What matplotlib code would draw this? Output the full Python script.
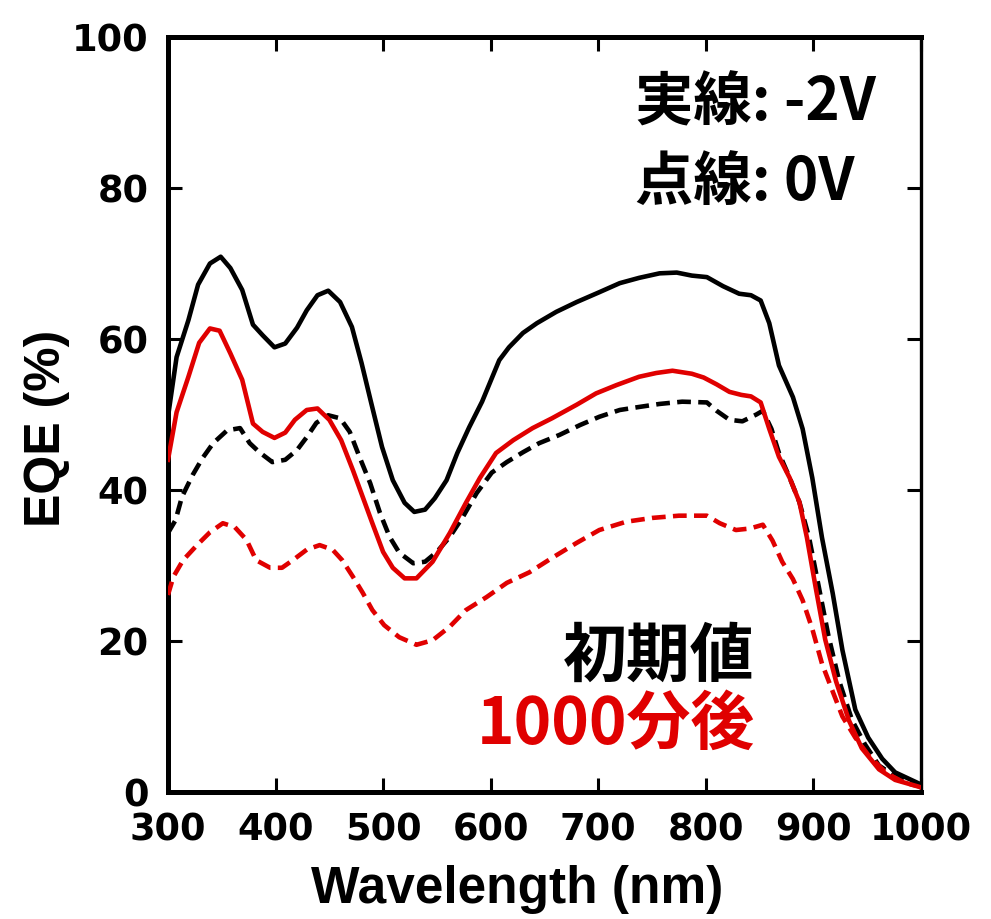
import matplotlib
matplotlib.use('Agg')
import matplotlib.pyplot as plt

# -2V, initial (black solid)
wl_k_solid = [300, 308, 319, 328, 339, 349, 358, 369, 379, 388, 399, 409, 420, 429, 439, 449,
              460, 471, 480, 489, 499, 509, 520, 529, 539, 548, 559, 569, 580, 592, 608, 617,
              630, 643, 661, 680, 701, 720, 738, 757, 773, 787, 801, 816, 831, 842, 851, 859,
              868, 881, 890, 899, 908, 918, 927, 939, 951, 964, 976, 991, 1000]
eqe_k_solid = [49.7, 57.6, 62.5, 67.2, 70.0, 70.9, 69.4, 66.5, 61.9, 60.5, 58.9, 59.4, 61.5, 63.8, 65.8, 66.4,
               64.9, 61.6, 56.8, 51.5, 45.7, 41.3, 38.3, 37.1, 37.4, 38.9, 41.3, 44.9, 48.3, 51.7, 57.2, 58.9,
               60.8, 62.1, 63.6, 64.9, 66.2, 67.4, 68.1, 68.7, 68.8, 68.4, 68.2, 67.0, 66.0, 65.8, 65.1, 62.1,
               56.5, 52.3, 48.1, 41.6, 33.7, 26.3, 18.8, 10.9, 7.2, 4.4, 2.6, 1.6, 1.0]

# -2V, after 1000 min (red solid)
wl_r_solid = [300, 308, 319, 329, 339, 348, 358, 369, 379, 388, 399, 409, 418, 429, 439, 450,
              461, 472, 481, 490, 500, 509, 520, 531, 546, 562, 577, 590, 605, 621, 639, 657,
              680, 698, 717, 738, 754, 769, 787, 798, 810, 822, 833, 842, 851, 859, 868, 878,
              887, 894, 902, 911, 921, 933, 945, 961, 976, 998, 1000]
eqe_r_solid = [44.0, 50.3, 55.0, 59.5, 61.4, 61.1, 58.1, 54.6, 48.8, 47.7, 46.9, 47.6, 49.3, 50.6, 50.8, 49.3,
               46.6, 42.6, 39.1, 35.6, 31.8, 29.7, 28.3, 28.3, 30.5, 34.3, 38.3, 41.6, 44.9, 46.6, 48.2, 49.5,
               51.3, 52.8, 53.9, 55.0, 55.5, 55.8, 55.4, 54.9, 54.0, 53.0, 52.6, 52.4, 51.6, 48.1, 44.4, 41.6,
               38.4, 33.7, 27.2, 20.2, 14.7, 9.5, 5.8, 3.0, 1.6, 0.7, 0.6]

# 0V, initial (black dashed)
wl_k_dash = [300, 307, 313, 323, 332, 342, 355, 367, 376, 385, 397, 409, 420, 429, 438, 449,
             460, 469, 478, 488, 497, 506, 515, 528, 539, 550, 562, 574, 587, 601, 615, 630,
             645, 664, 683, 701, 720, 738, 757, 778, 801, 810, 822, 834, 847, 853, 861, 868,
             878, 887, 896, 905, 914, 924, 936, 948, 961, 976, 998, 1000]
eqe_k_dash = [34.3, 36.0, 39.1, 42.0, 44.2, 46.2, 47.9, 48.2, 46.2, 45.0, 43.7, 44.0, 45.3, 47.0, 48.9, 49.9,
              49.5, 47.7, 44.4, 40.9, 37.0, 33.8, 31.7, 30.3, 30.5, 31.8, 33.8, 36.4, 39.6, 42.3, 43.7, 45.0,
              46.2, 47.3, 48.6, 49.7, 50.6, 51.0, 51.4, 51.7, 51.6, 50.5, 49.3, 49.1, 50.0, 50.5, 48.1, 44.9,
              41.6, 38.4, 33.7, 27.2, 20.7, 14.7, 9.5, 6.3, 3.5, 2.1, 0.9, 0.8]

# 0V, after 1000 min (red dashed)
wl_r_dash = [300, 305, 314, 327, 339, 351, 362, 373, 382, 395, 406, 416, 429, 441, 453, 462,
             472, 481, 490, 501, 515, 531, 546, 562, 577, 596, 615, 636, 657, 680, 701, 726,
             750, 775, 801, 813, 828, 841, 853, 862, 871, 881, 890, 899, 908, 918, 927, 939,
             951, 967, 985, 1000]
eqe_r_dash = [26.1, 28.5, 30.7, 32.7, 34.4, 35.6, 35.1, 33.4, 30.7, 29.7, 29.7, 30.7, 32.1, 32.7, 32.1, 30.7,
              28.5, 26.4, 24.1, 22.1, 20.5, 19.5, 20.1, 21.9, 24.1, 25.8, 27.7, 29.1, 31.0, 33.0, 34.7, 35.8,
              36.3, 36.6, 36.6, 35.6, 34.7, 34.9, 35.4, 33.3, 30.5, 28.2, 25.4, 21.6, 17.0, 13.3, 10.0, 7.2,
              4.9, 2.6, 1.2, 0.7]

x_ticks = [300, 400, 500, 600, 700, 800, 900, 1000]
y_ticks = [0, 20, 40, 60, 80, 100]

RED = '#e00000'
LW = 3.3
DASH = (3.0, 1.6)

fig = plt.figure(figsize=(9.91, 9.19), dpi=100)
ax = fig.add_axes([0.1695, 0.1382, 0.7598, 0.8215])

ax.plot(wl_k_solid, eqe_k_solid, color='black', lw=LW, zorder=4)
ax.plot(wl_r_solid, eqe_r_solid, color=RED, lw=LW, zorder=5)
ax.plot(wl_k_dash, eqe_k_dash, color='black', lw=LW, dashes=DASH, zorder=3)
ax.plot(wl_r_dash, eqe_r_dash, color=RED, lw=LW, dashes=DASH, zorder=3)

ax.set_xlim(300, 1000)
ax.set_ylim(0, 100)
ax.set_xticks(x_ticks)
ax.set_yticks(y_ticks)

tick_font = dict(family='DejaVu Sans', weight='bold', size=26.5)
ax.set_xticklabels([str(v) for v in x_ticks], fontdict=tick_font)
ax.set_yticklabels([str(v) for v in y_ticks], fontdict=tick_font)
ax.tick_params(direction='in', length=10, width=2.2, top=True, right=True)
ax.tick_params(axis='y', pad=14)
ax.tick_params(axis='x', pad=14)

for side in ['left', 'bottom', 'top']:
    ax.spines[side].set_linewidth(3.6)
ax.spines['right'].set_linewidth(2.4)

ax.set_xlabel('Wavelength (nm)', family='Liberation Sans', weight='bold', size=37)
ax.set_ylabel('EQE (%)', family='Liberation Sans', weight='bold', size=36)
ax.xaxis.set_label_coords(0.4635, -0.097)
ax.yaxis.set_label_coords(-0.130, 0.482)

jp = ['Noto Sans CJK JP', 'DejaVu Sans']
ax.text(0.620, 0.9126, '実線: -2V', transform=ax.transAxes, family=jp, weight='bold',
        size=42, ha='left', va='center')
ax.text(0.620, 0.8066, '点線: 0V', transform=ax.transAxes, family=jp, weight='bold',
        size=42, ha='left', va='center')
ax.text(0.7795, 0.1788, '初期値', transform=ax.transAxes, family=jp, weight='bold',
        size=46, ha='right', va='center', color='black')
ax.text(0.7795, 0.0887, '1000分後', transform=ax.transAxes, family=jp, weight='bold',
        size=46, ha='right', va='center', color=RED)

fig.savefig('out.png', dpi=100)
